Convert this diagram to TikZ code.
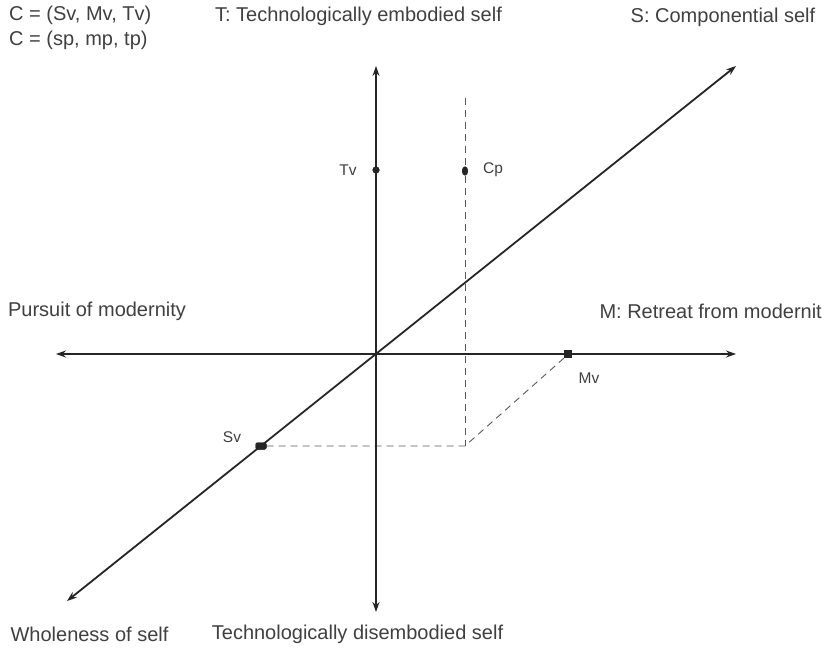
\documentclass[tikz,border=0pt]{standalone}
\usepackage{fontspec}
\setmainfont{Liberation Sans}
\usetikzlibrary{arrows.meta,calc,shapes.geometric}
\begin{document}
\begin{tikzpicture}[x=1pt,y=-1pt,
  axis/.style={line width=1.8pt, draw=black!85, {Stealth[length=10pt,width=7pt]}-{Stealth[length=10pt,width=7pt]}},
  guide/.style={dash pattern=on 7pt off 5pt, line width=0.9pt, draw=black!65},
  lbl/.style={font=\fontsize{20}{22}\selectfont, text=black!75, inner sep=0pt},
  small/.style={font=\fontsize{15.5}{18}\selectfont, text=black!75, inner sep=0pt},
  dot/.style={fill=black!85, draw=none, inner sep=0pt}]
\useasboundingbox (0,0) rectangle (825,652);
\fill[white] (0,0) rectangle (825,652);

% axis end points
\coordinate (O) at (376,354);
\coordinate (Ttop) at (376,66);
\coordinate (Tbot) at (376,612);
\coordinate (Mleft) at (56,354);
\coordinate (Mright) at (736,354);
\coordinate (Sup) at (736,66);
\coordinate (Sdown) at (67,601);
\coordinate (Ctop) at (465,98);
\coordinate (Foot) at (465,446);

% markers
\node[dot, ellipse, minimum width=6pt, minimum height=9pt] (Cp) at (465,171) {};
\node[dot, rounded corners=2pt, minimum width=11pt, minimum height=7pt] (Sv) at (261,446) {};
\node[dot, minimum width=8pt, minimum height=8pt] (Mv) at (568,354) {};
\node[dot, circle, minimum size=7pt] (Tv) at (376,170) {};

% dashed guides
\draw[guide] (Ctop) -- (Cp.north);
\draw[guide] (Cp.south) -- (Foot);
\draw[guide] (Sv.east) -- (Foot) -- (Mv.south west);

% axes
\draw[axis] (Mleft) -- (Mright);
\draw[axis] (Tbot) -- (Ttop);
\draw[axis] (Sdown) -- (Sup);

% redraw markers on top
\node[dot, ellipse, minimum width=6pt, minimum height=9pt] at (Cp) {};
\node[dot, rounded corners=2pt, minimum width=11pt, minimum height=7pt] at (Sv) {};
\node[dot, minimum width=8pt, minimum height=8pt] at (Mv) {};
\node[dot, circle, minimum size=7pt] at (Tv) {};

% point labels
\node[small] (TvL) at (348,170) {Tv};
\node[small] (CpL) at (493,170) {Cp};
\node[small] (SvL) at (232,437) {Sv};
\node[small] (MvL) at (589,378) {Mv};

% texts
\node[lbl, anchor=west] (C1) at (9,15) {C = (Sv, Mv, Tv)};
\node[lbl, anchor=west] (C2) at (9,40) {C = (sp, mp, tp)};
\node[lbl] (Tlab) at (358.5,16) {T: Technologically embodied self};
\node[lbl] (Slab) at (723,17) {S: Componential self};
\node[lbl] (Plab) at (97,311) {Pursuit of modernity};
\node[lbl, anchor=east] (Mlab) at (822,311) {M: Retreat from modernit};
\node[lbl] (Wlab) at (89.5,634) {Wholeness of self};
\node[lbl] (TDlab) at (357.5,634) {Technologically disembodied self};
\end{tikzpicture}
\end{document}
